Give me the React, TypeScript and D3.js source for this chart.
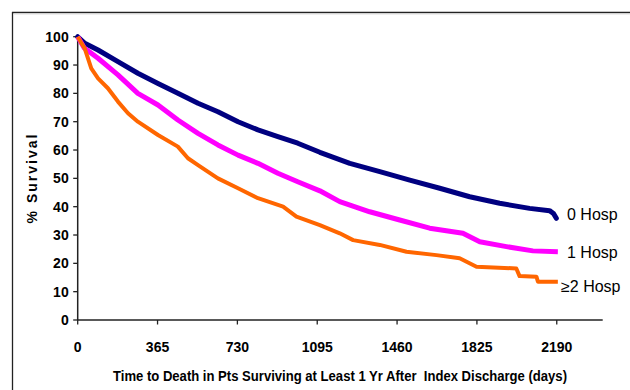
import React from 'react'
import * as d3 from 'd3'

// survival curves (days after 1 yr, % surviving)
const hosp0Days = [0, 30, 93, 184, 275, 367, 458, 550, 641, 733, 824, 915, 1006, 1107, 1244, 1381, 1518, 1655, 1792, 1929, 2066, 2157, 2175, 2188]
const hosp0Surv = [100, 97.8, 95.3, 91.2, 87.1, 83.5, 80.0, 76.5, 73.5, 70.0, 67.1, 64.7, 62.4, 59.2, 55.3, 52.4, 49.4, 46.5, 43.5, 41.2, 39.4, 38.6, 37.6, 35.9]

const hosp1Days = [0, 30, 93, 184, 275, 367, 458, 550, 641, 733, 824, 915, 1006, 1107, 1198, 1335, 1472, 1609, 1761, 1838, 1960, 2081, 2195]
const hosp1Surv = [100, 96, 92.4, 86.5, 80.0, 75.9, 70.6, 65.9, 61.8, 58.2, 55.3, 51.8, 48.8, 45.6, 41.8, 38.2, 35.3, 32.4, 30.6, 27.6, 25.9, 24.4, 24.1]

const hosp2Days = [0, 15, 32, 62, 93, 138, 184, 230, 275, 367, 458, 504, 550, 641, 733, 824, 939, 1000, 1107, 1198, 1259, 1381, 1503, 1640, 1746, 1823, 2005, 2020, 2097, 2104, 2195]
const hosp2Surv = [100, 98, 95.9, 88.8, 85.3, 81.8, 77.1, 73.0, 70.0, 65.3, 61.2, 57.1, 54.7, 50.0, 46.5, 43.0, 40.0, 36.5, 33.5, 30.6, 28.2, 26.5, 24.1, 22.9, 21.8, 18.8, 18.2, 15.5, 15.3, 13.5, 13.5]

const seriesNames = ['0 Hosp', '1 Hosp', '\u22652 Hosp']
const xTickLabels = [0, 365, 730, 1095, 1460, 1825, 2190]
const yTickLabels = [0, 10, 20, 30, 40, 50, 60, 70, 80, 90, 100]

const sans = '"Liberation Sans", Arial, sans-serif'

export default function App() {
  const width = 630
  const height = 390
  const x = d3.scaleLinear().domain([0, 2400]).range([77.7, 602.7])
  const y = d3.scaleLinear().domain([0, 100]).range([320, 36.7])

  const line = d3
    .line<[number, number]>()
    .x((d) => x(d[0]))
    .y((d) => y(d[1]))

  const series = [
    {name: seriesNames[0], days: hosp0Days, surv: hosp0Surv, color: '#000080', w: 5, cap: 'round', dy: 2},
    {name: seriesNames[1], days: hosp1Days, surv: hosp1Surv, color: '#FF00FF', w: 5, cap: 'butt', dy: 6},
    {name: seriesNames[2], days: hosp2Days, surv: hosp2Surv, color: '#FF6600', w: 4, cap: 'butt', dy: 10},
  ]

  return (
    <svg
      width={width}
      height={height}
      style={{position: 'absolute', left: 0, top: 0, background: '#fff'}}
    >
      {/* outer frame, cut off at right and bottom */}
      <line x1={12} x2={630} y1={12.5} y2={12.5} stroke="#222" strokeWidth={1.3} />
      <line x1={14} x2={630} y1={14} y2={14} stroke="#ddd" strokeWidth={1} />
      <line x1={12.5} x2={12.5} y1={12} y2={390} stroke="#222" strokeWidth={1.3} />

      {/* y axis */}
      <line x1={x(0)} x2={x(0)} y1={y(100) - 1} y2={y(0)} stroke="#222" strokeWidth={1.5} />
      {yTickLabels.map((t) => (
        <g key={'y' + t}>
          <line x1={x(0) - 4.5} x2={x(0)} y1={y(t)} y2={y(t)} stroke="#222" strokeWidth={1.3} />
          <text
            x={x(0) - 9}
            y={y(t) + 5}
            textAnchor="end"
            fontFamily={sans}
            fontWeight="bold"
            fontSize={14}
            fill="#000"
          >
            {t}
          </text>
        </g>
      ))}

      {/* x axis */}
      <line x1={x(0)} x2={x(2400)} y1={y(0)} y2={y(0)} stroke="#222" strokeWidth={1.5} />
      {xTickLabels.map((t) => (
        <g key={'x' + t}>
          <line x1={x(t)} x2={x(t)} y1={y(0)} y2={y(0) + 4.5} stroke="#222" strokeWidth={1.3} />
          <text
            x={x(t)}
            y={351.5}
            textAnchor="middle"
            fontFamily={sans}
            fontWeight="bold"
            fontSize={14}
            fill="#000"
          >
            {t}
          </text>
        </g>
      ))}

      <text
        x={113}
        y={380.5}
        fontFamily={sans}
        fontWeight="bold"
        fontSize={14}
        textLength={454}
        lengthAdjust="spacingAndGlyphs"
        fill="#000"
        style={{whiteSpace: 'pre'}}
      >
        {'Time to Death in Pts Surviving at Least 1 Yr After  Index Discharge (days)'}
      </text>

      <text
        transform="translate(37,178) rotate(-90)"
        textAnchor="middle"
        fontFamily={sans}
        fontWeight="bold"
        fontSize={14}
        letterSpacing={2}
        fill="#000"
      >
        % Survival
      </text>

      {series.map((s) => {
        const pts = s.days.map((d, i) => [d, s.surv[i]] as [number, number])
        return (
          <path
            key={s.name}
            d={line(pts) || ''}
            fill="none"
            stroke={s.color}
            strokeWidth={s.w}
            strokeLinejoin="round"
            strokeLinecap={s.cap as any}
          />
        )
      })}

      {series.map((s, i) => (
        <text
          key={'lbl' + s.name}
          x={i === 2 ? 561 : 567}
          y={y(s.surv[s.surv.length - 1]) + s.dy}
          fontFamily={sans}
          fontSize={16}
          fill="#000"
        >
          {s.name}
        </text>
      ))}
    </svg>
  )
}
